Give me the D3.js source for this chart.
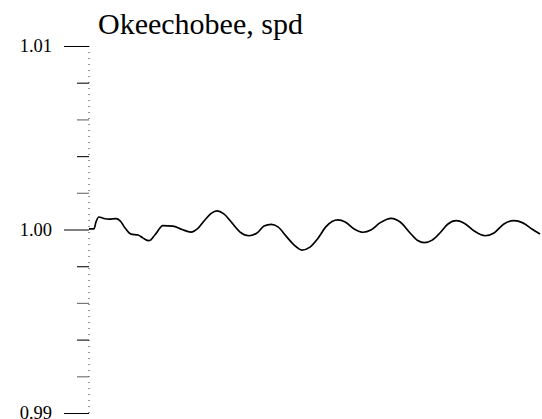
<!DOCTYPE html>
<html>
<head>
<meta charset="utf-8">
<script src="https://cdn.jsdelivr.net/npm/d3@7"></script>
<style>
  html, body { margin: 0; padding: 0; background: #fff; }
  svg { display: block; }
  svg text { font-family: "Liberation Serif", "DejaVu Serif", "Times New Roman", serif !important; }
</style>
</head>
<body>
<div id="chart"></div>
<script>
/* Okeechobee speed ratio trace, single line on a bare left axis. */

var title = "Okeechobee, spd";
var majorTicks = [0.99, 1.00, 1.01];
var tickLabels = ["0.99", "1.00", "1.01"];
var minorTicks = [0.992, 0.994, 0.996, 0.998, 1.002, 1.004, 1.006, 1.008];

// time index (arbitrary units) and speed ratio
var times = [0, 1.1, 1.55, 2.2, 3.3, 4.4, 6.0, 6.9, 8.0, 9.3, 10.9, 12.0, 13.3, 14.6,
  16.4, 18.6, 20.6, 22.6, 24.2, 25.7, 27.1, 28.4, 29.9, 31.7, 33.5, 35.5, 37.5, 38.8,
  40.4, 41.9, 43.7, 45.5, 47.2, 49.0, 50.8, 52.5, 53.9, 55.2, 56.8, 58.8, 60.8, 62.5,
  64.5, 67.0, 69.0, 71.2, 72.9, 74.3, 76.1, 77.8, 79.6, 81.4, 83.1, 85.4, 87.8, 89.8,
  92.0, 94.2, 96.2, 98.2, 100];
var speeds = [1.00003, 1.00003, 1.00041, 1.00068, 1.00060, 1.00056, 1.00059, 1.00047,
  1.00008, 0.99975, 0.99970, 0.99953, 0.99939, 0.99970, 1.00021, 1.00018, 1.00000,
  0.99986, 1.00008, 1.00052, 1.00088, 1.00101, 1.00085, 1.00036, 0.99986, 0.99966,
  0.99986, 1.00019, 1.00028, 1.00014, 0.99964, 0.99915, 0.99888, 0.99904, 0.99953,
  1.00014, 1.00044, 1.00052, 1.00041, 1.00003, 0.99985, 0.99997, 1.00036, 1.00061,
  1.00041, 0.99981, 0.99940, 0.99928, 0.99942, 0.99981, 1.00030, 1.00048, 1.00036,
  0.99992, 0.99966, 0.99981, 1.00030, 1.00048, 1.00036, 1.00003, 0.99975];

var width = 542, height = 419;
var margin = { top: 46, right: 2, bottom: 6, left: 89 };

var svg = d3.select("#chart").append("svg")
  .attr("width", width)
  .attr("height", height);

var x = d3.scaleLinear()
  .domain([d3.min(times), d3.max(times)])
  .range([margin.left, width - margin.right]);

var y = d3.scaleLinear()
  .domain([0.99, 1.01])
  .range([height - margin.bottom, margin.top]);

// dotted spine
svg.append("line")
  .attr("x1", margin.left).attr("x2", margin.left)
  .attr("y1", y(1.01)).attr("y2", y(0.99))
  .attr("stroke", "#333")
  .attr("stroke-width", 1)
  .attr("stroke-dasharray", "1,5");

// minor ticks
var minorAxis = d3.axisLeft(y).tickValues(minorTicks).tickSize(12).tickFormat("");
var gMinor = svg.append("g")
  .attr("transform", "translate(" + margin.left + ",0)")
  .call(minorAxis);
gMinor.select(".domain").remove();
gMinor.selectAll(".tick line")
  .attr("stroke", function (d, i) { return i % 2 ? "#222" : "#777"; })
  .attr("stroke-width", 1.2);

// major ticks with labels
var majorAxis = d3.axisLeft(y).tickValues(majorTicks).tickSize(25).tickPadding(12)
  .tickFormat(function (d, i) { return tickLabels[i]; });
var gMajor = svg.append("g")
  .attr("transform", "translate(" + margin.left + ",0)")
  .call(majorAxis);
gMajor.select(".domain").remove();
gMajor.selectAll(".tick line").attr("stroke", "#000").attr("stroke-width", 1);
gMajor.selectAll(".tick text")
  .attr("font-size", 18.5)
  .attr("fill", "#000");

// title
svg.append("text")
  .attr("x", 98).attr("y", 34)
  .attr("font-size", 30)
  .attr("fill", "#000")
  .text(title);

// speed line
var pts = times.map(function (t, i) { return [t, speeds[i]]; });
var line = d3.line()
  .x(function (d) { return x(d[0]); })
  .y(function (d) { return y(d[1]); })
  .curve(d3.curveMonotoneX);

svg.append("path")
  .datum(pts)
  .attr("d", line)
  .attr("fill", "none")
  .attr("stroke", "#000")
  .attr("stroke-width", 1.7)
  .attr("stroke-linejoin", "round");
</script>
</body>
</html>
